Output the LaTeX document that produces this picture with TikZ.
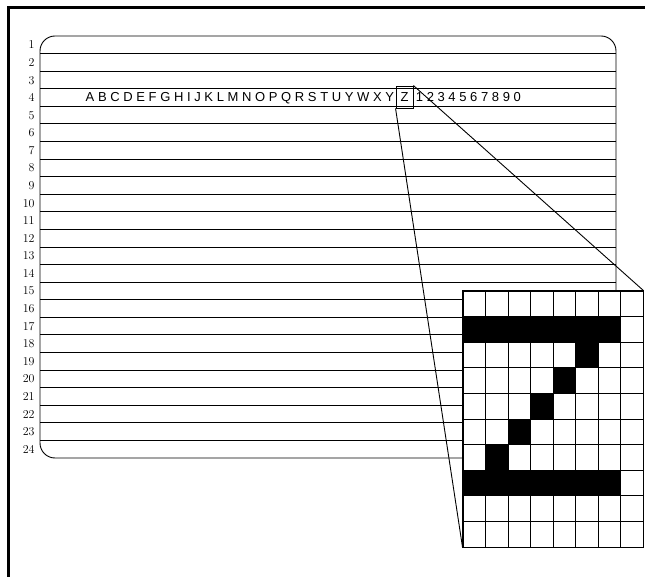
\documentclass[tikz,border=0pt]{standalone}
\usepackage{fontspec}
\usetikzlibrary{positioning}
\newfontfamily\glyphfont{Liberation Sans}[LetterSpace=28]

\begin{document}
\begin{tikzpicture}[x=1pt, y=-1pt, line width=0.9pt,
        rowlabel/.style={anchor=east, inner sep=0pt, font=\fontsize{12}{12}\selectfont},
        screentext/.style={inner sep=0pt, font=\glyphfont\fontsize{13}{13}\selectfont}]
        \useasboundingbox (0,0) rectangle (645,577);

        % frame
        \draw[line width=3pt] (8.5,577) -- (8.5,7.5) -- (645,7.5);

        % screen with 24 rows
        \draw[rounded corners=15pt] (40,36) rectangle (616,458);
        \foreach \k in {1,...,23}
            \draw (40,36+17.58*\k) -- (616,36+17.58*\k);
        \foreach \k in {1,...,24}
            \node[rowlabel] (row\k) at (35,36+17.58*\k-8.6) {\k};

        % character set on row 4
        \node[draw, screentext, minimum width=17pt, minimum height=22pt] (zchar) at (404.5,97) {Z};
        \node[screentext, anchor=base east, xshift=-1pt] (letters) at (zchar.base west) {ABCDEFGHIJKLMNOPQRSTUYWXY};
        \node[screentext, anchor=base west, xshift=2pt] (digits) at (zchar.base east) {1234567890};

        % enlarged pixel grid
        \node[draw, fill=white, minimum width=180pt, minimum height=256pt, inner sep=0pt] (zoomgrid) at (553,419) {};
        \draw (zchar.north east) -- (zoomgrid.north east);
        \draw (zchar.south west) -- (zoomgrid.south west);

        \fill (463,316.6) rectangle ++(157.5,25.6);
        \fill (463,470.2) rectangle ++(157.5,25.6);
        \foreach \r/\c in {2/5, 3/4, 4/3, 5/2, 6/1}
            \fill (463+22.5*\c,291+25.6*\r) rectangle ++(22.5,25.6);

        \foreach \i in {1,...,7}
            \draw[line width=1pt] (463+22.5*\i,291) -- ++(0,256);
        \foreach \j in {1,...,9}
            \draw[line width=1pt] (463,291+25.6*\j) -- ++(180,0);
        \draw[line width=1pt] (zoomgrid.south west) rectangle (zoomgrid.north east);
    \end{tikzpicture}
\end{document}
